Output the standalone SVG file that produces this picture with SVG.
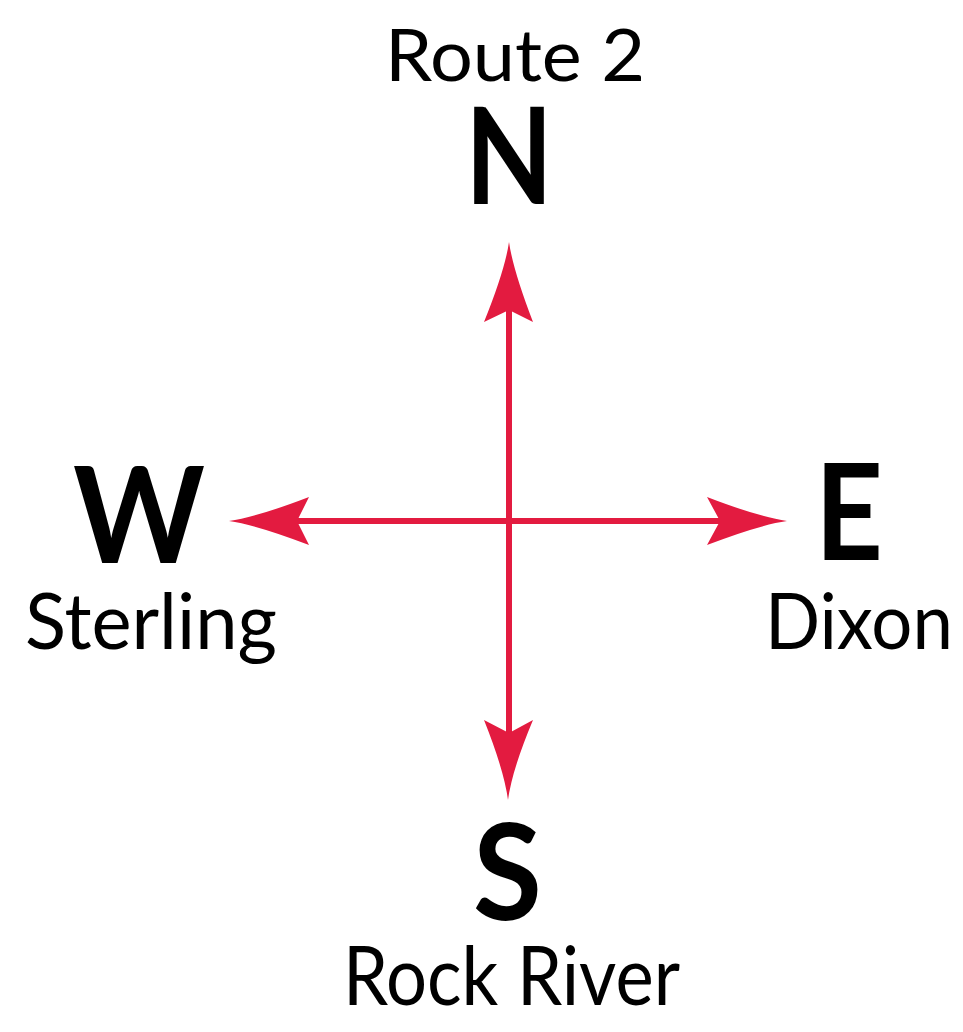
<svg xmlns="http://www.w3.org/2000/svg" width="963" height="1032" viewBox="0 0 963 1032">
<style>
.lbl{font-family:Lato,"Noto Sans","Liberation Sans",sans-serif;fill:#000;text-anchor:middle}
.big{font-weight:700;font-size:134px}
.sm{font-weight:400}
.ln{stroke:#E31B40;stroke-width:6;fill:none}
.hd{fill:#E31B40}
</style>
<rect width="963" height="1032" fill="#fff"/>
<g id="connectors">
<line class="ln" x1="509" y1="300" x2="509" y2="740"/>
<line class="ln" x1="290" y1="521" x2="730" y2="521"/>
<path class="hd" d="M509,242 Q513,270 533,322 L509,310 L484,322 Q505,270 509,242 Z"/>
<path class="hd" d="M508,800 Q504,770 484,720 L509,733 L533,720 Q512,770 508,800 Z"/>
<path class="hd" d="M229,521 Q257,517 309,497 L297,521 L309,545 Q257,525 229,521 Z"/>
<path class="hd" d="M787,521 Q759,517 707,497 L720,521 L707,545 Q759,525 787,521 Z"/>
</g>
<g id="north">
<text class="lbl sm" x="515" y="81" font-size="71" textLength="260" lengthAdjust="spacingAndGlyphs">Route 2</text>
<text class="lbl big" x="509" y="204" textLength="88" lengthAdjust="spacingAndGlyphs">N</text>
</g>
<g id="west">
<text class="lbl big" x="139" y="563" textLength="132" lengthAdjust="spacingAndGlyphs">W</text>
<text class="lbl sm" x="151" y="649" font-size="77" textLength="252" lengthAdjust="spacingAndGlyphs">Sterling</text>
</g>
<g id="east">
<text class="lbl big" x="849" y="560" textLength="68" lengthAdjust="spacingAndGlyphs">E</text>
<text class="lbl sm" x="859" y="649" font-size="77" textLength="188" lengthAdjust="spacingAndGlyphs">Dixon</text>
</g>
<g id="south">
<text class="lbl big" x="507.5" y="920" textLength="69" lengthAdjust="spacingAndGlyphs">S</text>
<text class="lbl sm" x="511.5" y="1005" font-size="81" textLength="337" lengthAdjust="spacingAndGlyphs">Rock River</text>
</g>
</svg>
